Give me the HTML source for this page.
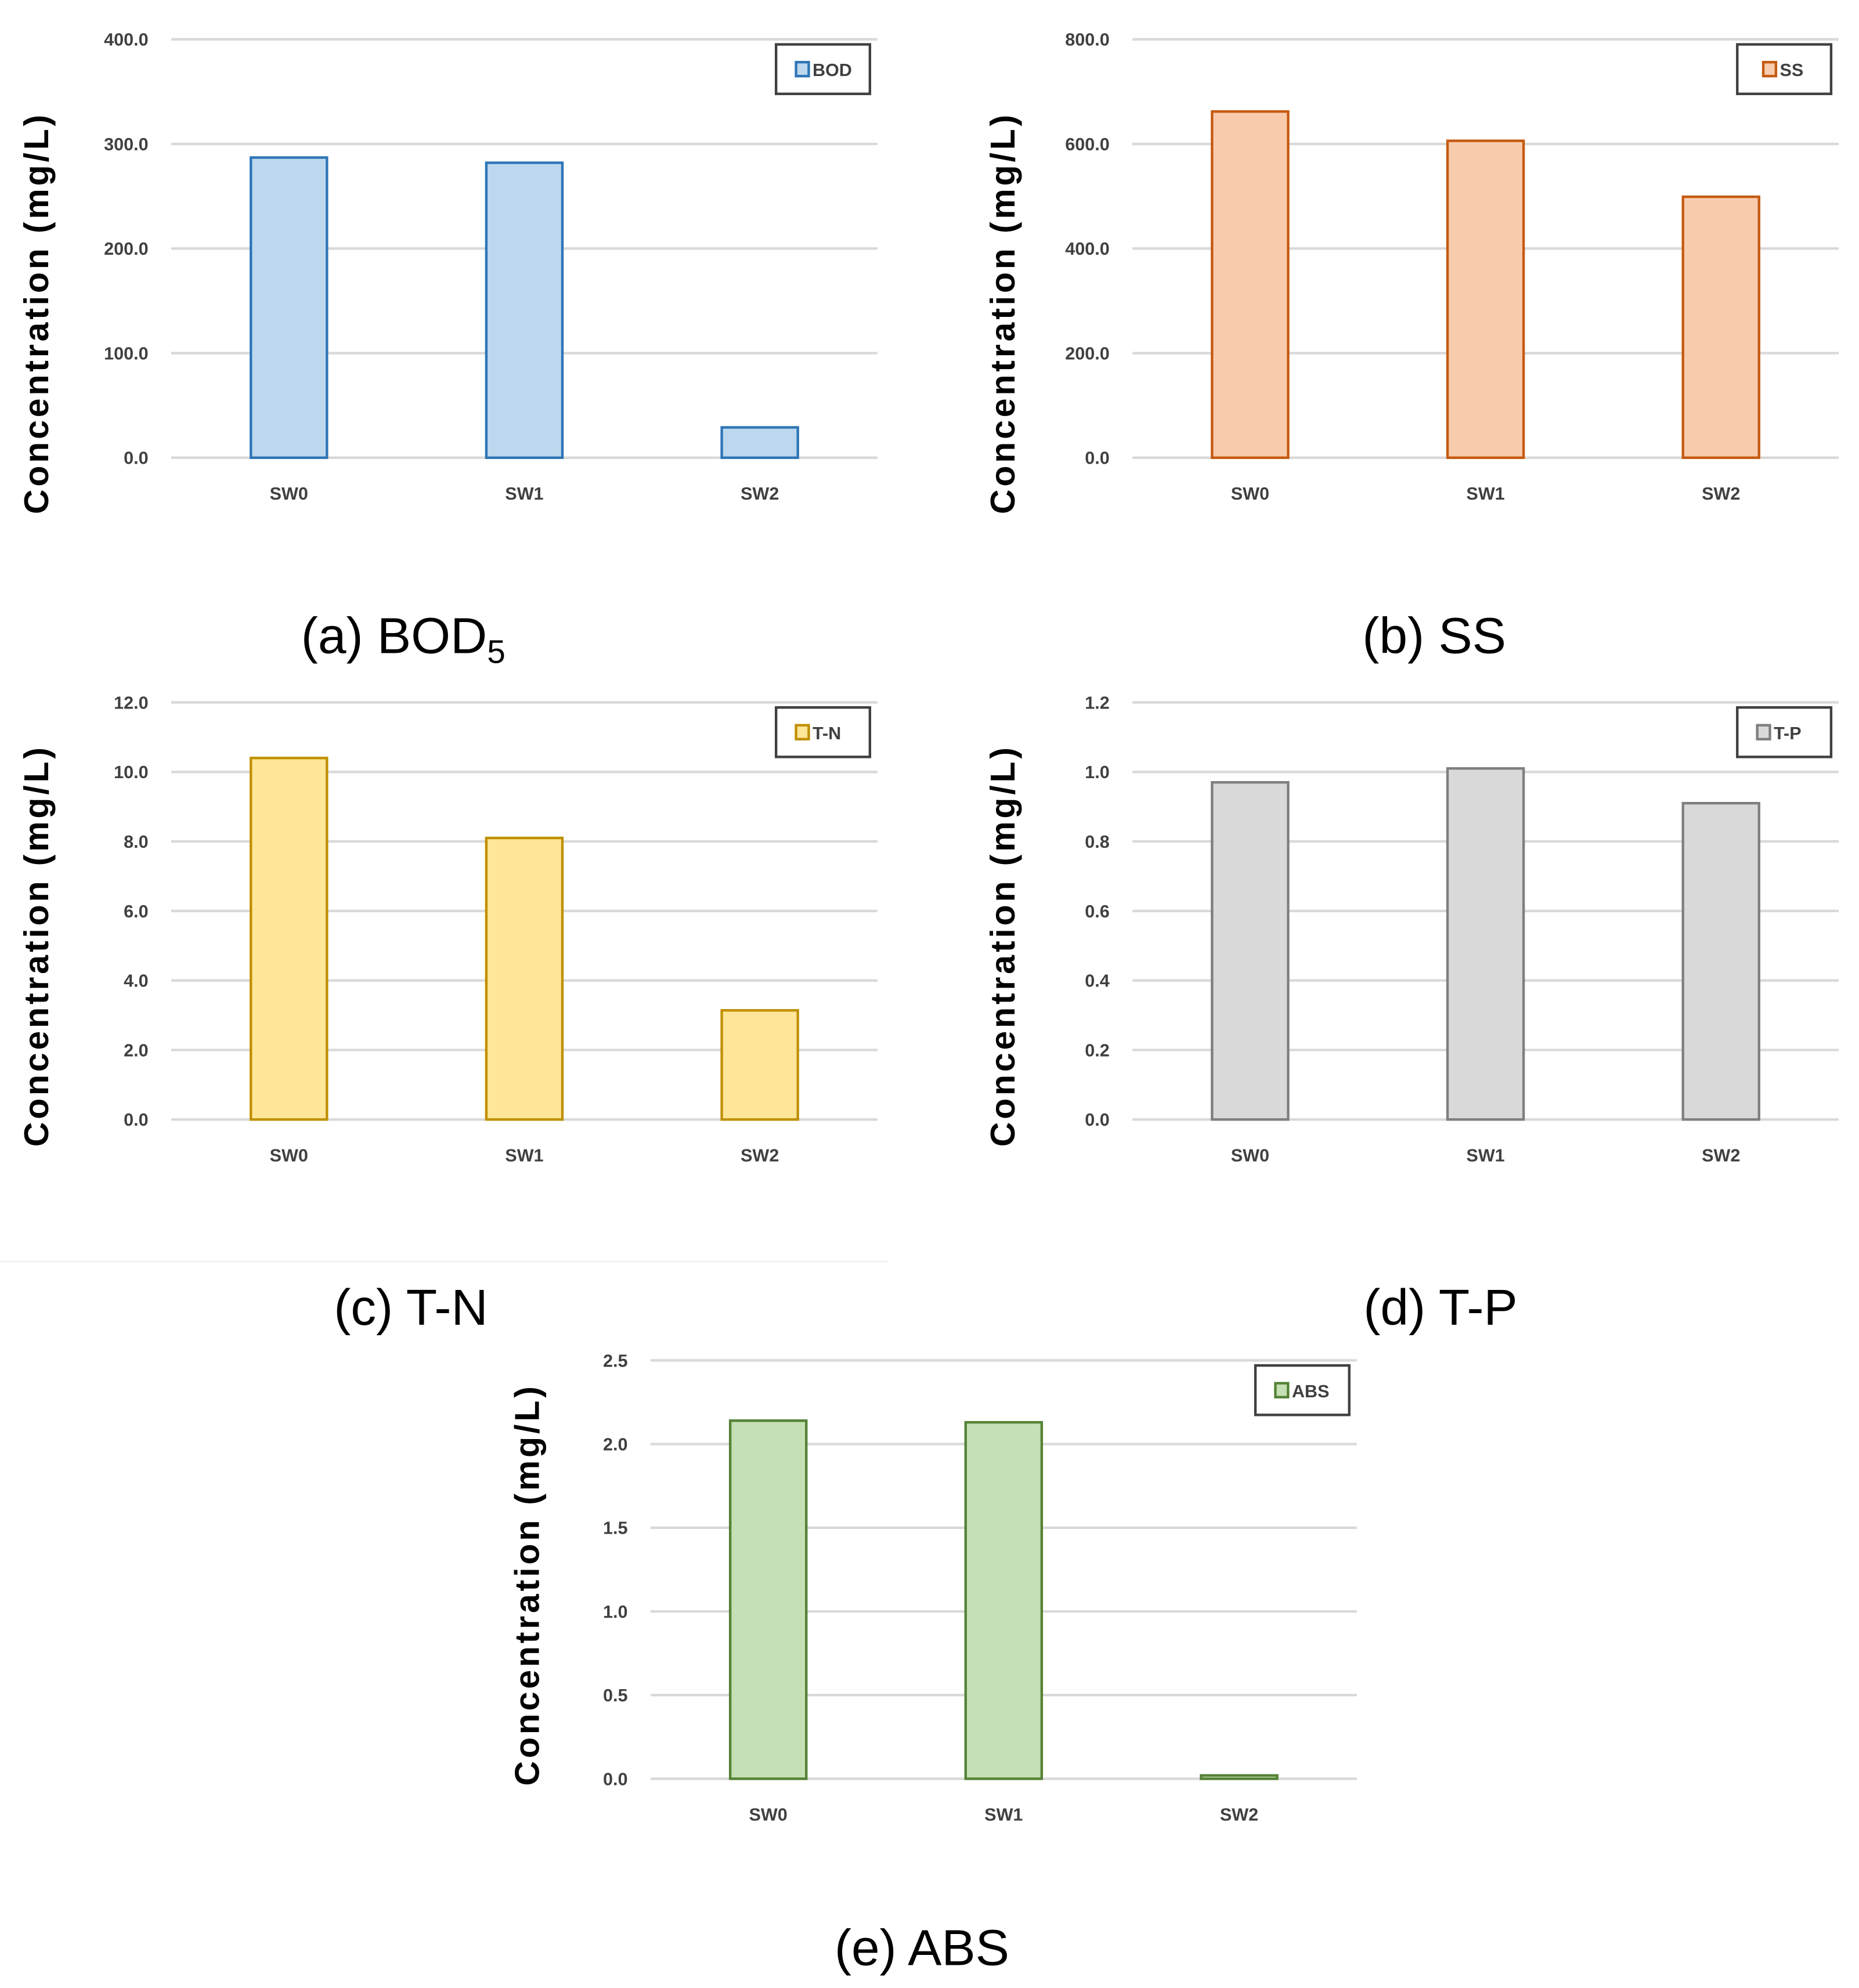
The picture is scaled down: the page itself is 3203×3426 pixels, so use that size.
<!DOCTYPE html>
<html><head><meta charset="utf-8"><style>
html,body{margin:0;padding:0;background:#fff;}
svg{display:block;}
text{font-family:"Liberation Sans",sans-serif;}
</style></head><body>
<svg id="fig" width="3203" height="3426" viewBox="0 0 1466 1568" xmlns="http://www.w3.org/2000/svg">
<rect x="0" y="0" width="1466" height="1568" fill="#fff"/>
<line x1="0" y1="995" x2="700" y2="995" stroke="#f0f0f0" stroke-width="1"/>
</svg>
<script>
const categories = ["SW0","SW1","SW2"];
const bodValues = [287, 282, 29];
const ssValues = [662, 606, 499];
const tnValues = [10.4, 8.1, 3.14];
const tpValues = [0.97, 1.01, 0.91];
const absValues = [2.14, 2.13, 0.02];
const bodTicks = ["0.0","100.0","200.0","300.0","400.0"];
const ssTicks = ["0.0","200.0","400.0","600.0","800.0"];
const tnTicks = ["0.0","2.0","4.0","6.0","8.0","10.0","12.0"];
const tpTicks = ["0.0","0.2","0.4","0.6","0.8","1.0","1.2"];
const absTicks = ["0.0","0.5","1.0","1.5","2.0","2.5"];

const NS = "http://www.w3.org/2000/svg";
const svg = document.getElementById("fig");
function mk(tag, attrs, parent){
  const e = document.createElementNS(NS, tag);
  for (const k in attrs) e.setAttribute(k, attrs[k]);
  (parent||svg).appendChild(e);
  return e;
}
function chart(cfg){
  const g = mk("g", {});
  
  
  const max = parseFloat(cfg.ticks[cfg.ticks.length-1]);
  const y = v => cfg.y0 - (v/max)*(cfg.y0-cfg.yTop);
  const band = (cfg.x1-cfg.x0)/categories.length;
  const xc = i => cfg.x0 + band*(i+0.5);
  cfg.ticks.forEach(t=>{
    const v = parseFloat(t);
    const l = mk("line",{x1:cfg.x0,x2:cfg.x1,y1:y(v),y2:y(v),stroke:"#d9d9d9","stroke-width":2},g);
    
    
    const tx = mk("text",{x:cfg.x0-18,y:y(v)+5,"text-anchor":"end","font-size":14,"font-weight":"bold",fill:"#404040"},g);
    tx.textContent = t;
    
    
  });
  cfg.values.forEach((v,i)=>{
    const r = mk("rect",{x:xc(i)-30,y:y(v),width:60,height:Math.max(cfg.y0-y(v),1.5),fill:cfg.fill,stroke:cfg.stroke,"stroke-width":2},g);
    
    
    const tx = mk("text",{x:xc(i),y:cfg.y0+33,"text-anchor":"middle","font-size":14,"font-weight":"bold",fill:"#404040"},g);
    tx.textContent = categories[i];
    
    
  });
  const yt = mk("text",{x:0,y:0,transform:"translate("+(cfg.titleX)+","+cfg.titleY+") rotate(-90)","text-anchor":"middle","font-size":27,"font-weight":"bold",fill:"#000",textLength:315,lengthAdjust:"spacing"},g);
  yt.textContent = "Concentration  (mg/L)";
  
  
  const lg = mk("g",{},g);
  
  
  mk("rect",{x:cfg.x1-80,y:cfg.yTop+4,width:74,height:39,fill:"#fff",stroke:"#404040","stroke-width":2},lg);
  const lw = cfg.label.length*9.5+14;
  const lx = cfg.x1-43-lw/2;
  mk("rect",{x:lx,y:cfg.yTop+18,width:10,height:11,fill:cfg.fill,stroke:cfg.stroke,"stroke-width":2},lg);
  const lt = mk("text",{x:lx+13,y:cfg.yTop+29,"font-size":14,"font-weight":"bold",fill:"#404040"},lg);
  lt.textContent = cfg.label;
  const cap = mk("text",{x:cfg.capX,y:cfg.capY,"text-anchor":"middle","font-size":40,fill:"#000"},g);
  
  
  cap.textContent = cfg.caption;
  if (cfg.sub){ const s = mk("tspan",{"font-size":26,dy:8},cap); s.textContent = cfg.sub; }
}
chart({name:"chart-bod",values:bodValues,ticks:bodTicks,x0:135,x1:692,yTop:31,y0:361,titleX:38,titleY:248,fill:"#bdd7ee",stroke:"#2e75b6",label:"BOD",caption:"(a) BOD",sub:"5",capX:318,capY:515});
chart({name:"chart-ss",values:ssValues,ticks:ssTicks,x0:893,x1:1450,yTop:31,y0:361,titleX:800,titleY:248,fill:"#f8cbad",stroke:"#c55a11",label:"SS",caption:"(b) SS",capX:1131,capY:515});
chart({name:"chart-tn",values:tnValues,ticks:tnTicks,x0:135,x1:692,yTop:554,y0:883,titleX:38,titleY:747,fill:"#ffe699",stroke:"#bf9000",label:"T-N",caption:"(c) T-N",capX:324,capY:1045});
chart({name:"chart-tp",values:tpValues,ticks:tpTicks,x0:893,x1:1450,yTop:554,y0:883,titleX:800,titleY:747,fill:"#d9d9d9",stroke:"#7f7f7f",label:"T-P",caption:"(d) T-P",capX:1136,capY:1045});
chart({name:"chart-abs",values:absValues,ticks:absTicks,x0:513,x1:1070,yTop:1073,y0:1403,titleX:425,titleY:1251,fill:"#c5e0b4",stroke:"#548235",label:"ABS",caption:"(e) ABS",capX:727,capY:1550});
</script>
</body></html>
